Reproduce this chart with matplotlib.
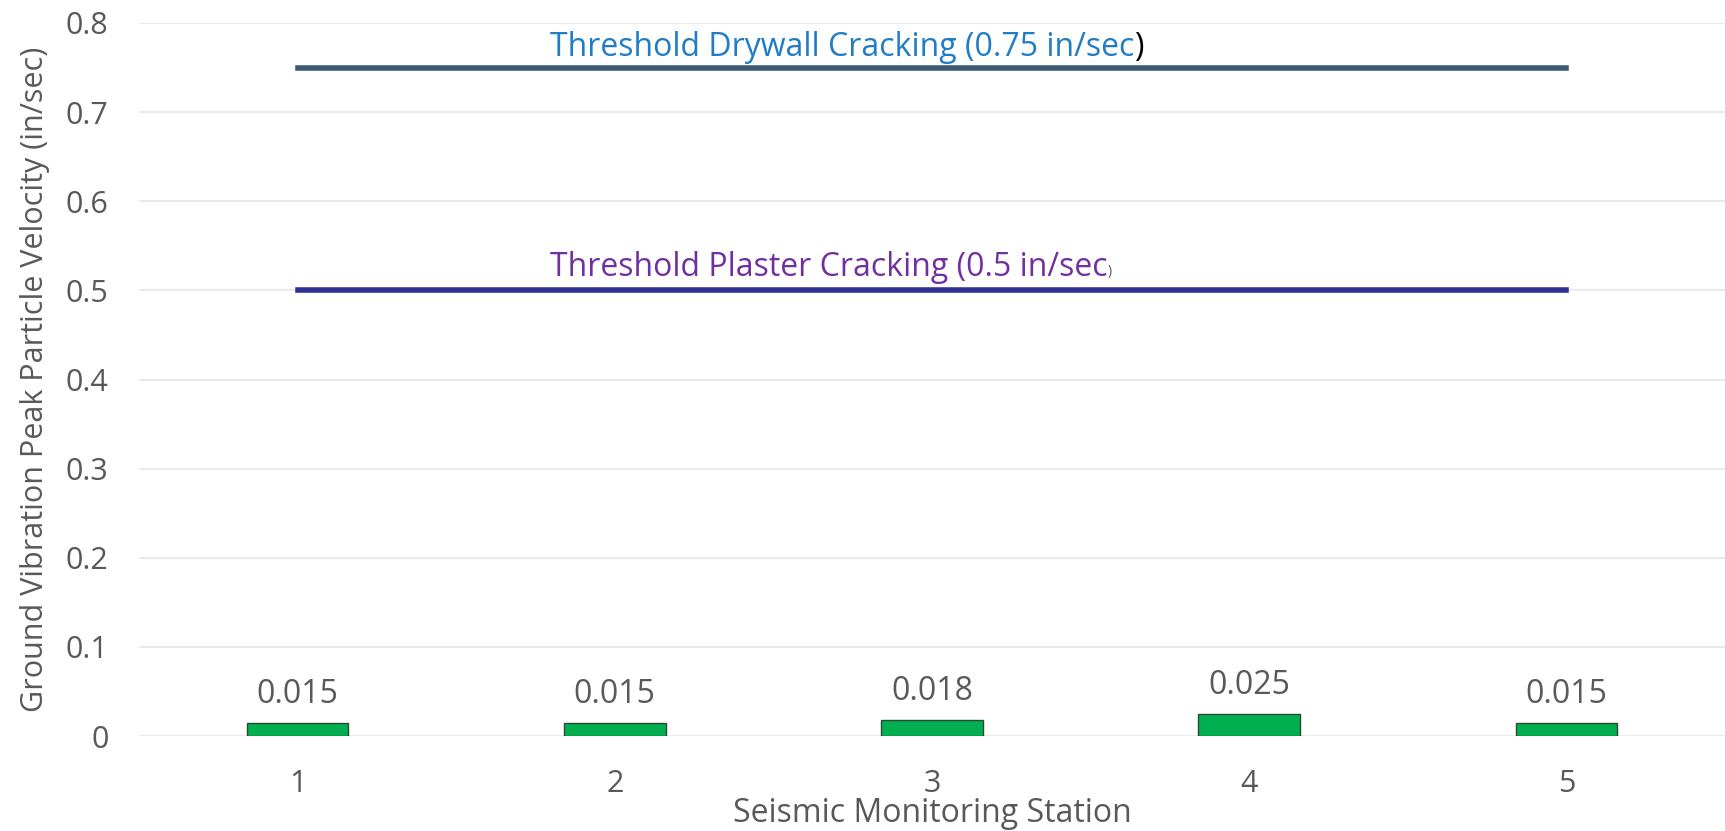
import matplotlib
matplotlib.use("Agg")
import matplotlib.pyplot as plt
from matplotlib import font_manager

stations = ["1", "2", "3", "4", "5"]
ppv = [0.015, 0.015, 0.018, 0.025, 0.015]
value_labels = ["0.015", "0.015", "0.018", "0.025", "0.015"]
y_ticks = [0, 0.1, 0.2, 0.3, 0.4, 0.5, 0.6, 0.7, 0.8]
y_tick_labels = ["0", "0.1", "0.2", "0.3", "0.4", "0.5", "0.6", "0.7", "0.8"]
drywall_threshold = 0.75
plaster_threshold = 0.5

names = {f.name for f in font_manager.fontManager.ttflist}
base_font = "Open Sans" if "Open Sans" in names else "DejaVu Sans"
plt.rcParams["font.family"] = [base_font, "DejaVu Sans"]

gray = "#595959"
fig = plt.figure(figsize=(17.25, 8.31), dpi=100)
ax = fig.add_axes([139 / 1725, 95 / 831, 1 - 139 / 1725, 713 / 831])

x = list(range(len(stations)))
ax.bar(x, ppv, width=0.32, color="#00b050", edgecolor="#2a4a35", linewidth=1.0, zorder=3)
for xi, v, lab in zip(x, ppv, value_labels):
    ax.text(xi, v + 0.032, lab, ha="center", va="center", fontsize=23, color=gray)

ax.plot([x[0], x[-1]], [drywall_threshold] * 2, color="#3e5a72", lw=4, zorder=4,
        solid_capstyle="projecting")
ax.plot([x[0], x[-1]], [plaster_threshold] * 2, color="#2f3192", lw=4, zorder=4,
        solid_capstyle="projecting")

ax.text(0.795, 0.772, "Threshold Drywall Cracking (0.75 in/sec", ha="left", va="center",
        fontsize=23, color="#1f7cc6")
ax.annotate(")", xy=(1, 0.5), xycoords=ax.texts[-1], ha="left", va="center",
            fontsize=23, color="black")
ax.text(0.795, 0.526, "Threshold Plaster Cracking (0.5 in/sec", ha="left", va="center",
        fontsize=23, color="#7030a0")
ax.annotate(")", xy=(1, 0.38), xycoords=ax.texts[-1], ha="left", va="center",
            fontsize=10, color=gray)

ax.set_xlim(-0.5, 4.5)
ax.set_ylim(0, 0.8)
ax.set_yticks(y_ticks)
ax.set_yticklabels(y_tick_labels)
ax.set_xticks(x)
ax.set_xticklabels(stations)
ax.tick_params(axis="both", length=0, labelsize=22, colors=gray)
ax.tick_params(axis="y", pad=22)
ax.tick_params(axis="x", pad=24)
ax.grid(axis="y", color="#ebebeb", lw=1.5, zorder=0)
ax.set_axisbelow(True)
for s in ax.spines.values():
    s.set_visible(False)

ax.set_ylabel("Ground Vibration Peak Particle Velocity (in/sec)", fontsize=22, color=gray)
ax.yaxis.label.set_va("center")
ax.yaxis.set_label_coords(-0.0655, 0.5)
ax.set_xlabel("Seismic Monitoring Station", fontsize=23, color=gray)
ax.xaxis.label.set_va("center")
ax.xaxis.set_label_coords(0.5, -0.109)

fig.savefig("out.png", dpi=100)
